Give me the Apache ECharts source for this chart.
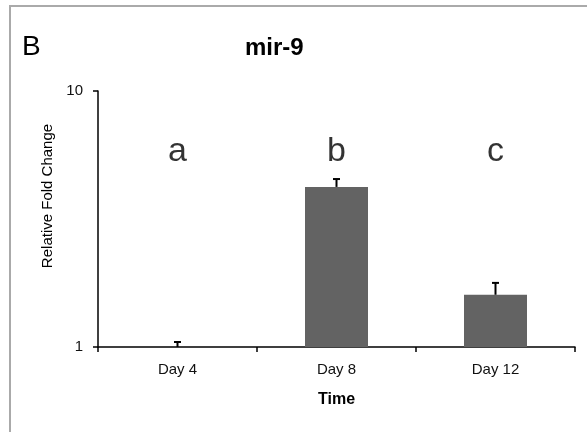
<!DOCTYPE html>
<html>
<head>
<meta charset="utf-8">
<script src="https://cdn.jsdelivr.net/npm/echarts@6/dist/echarts.min.js"></script>
<style>html,body{margin:0;padding:0;background:#fff;}#c{width:587px;height:432px;}</style>
</head>
<body>
<div id="c"></div>
<script>
const categories = ['Day 4', 'Day 8', 'Day 12'];
const values = [1.0, 4.22, 1.6];
const errorUpper = [1.046, 4.53, 1.78];
const letters = ['a', 'b', 'c'];
const letterLevel = [5.8, 5.8, 5.8];

const chart = echarts.init(document.getElementById('c'), null, {renderer: 'canvas'});
const font = 'Liberation Sans, Arial, sans-serif';
const option = {
  animation: false,
  backgroundColor: '#fff',
  textStyle: {fontFamily: font},
  graphic: [{
    type: 'rect', shape: {x: 10, y: 6, width: 800, height: 800},
    style: {fill: 'none', stroke: '#aaaaaa', lineWidth: 2}, silent: true, z: -10
  }],
  title: [
    {text: 'B', left: 17, top: 28, textStyle: {fontFamily: font, fontSize: 28, fontWeight: 'normal', color: '#000'}},
    {text: 'mir-9', left: 240, top: 31, textStyle: {fontFamily: font, fontSize: 24, fontWeight: 'bold', color: '#000'}}
  ],
  grid: {left: 98, right: 12, top: 91, bottom: 85, containLabel: false},
  xAxis: {
    type: 'category', data: categories, boundaryGap: true,
    axisLine: {lineStyle: {color: '#000', width: 1.5}},
    axisTick: {show: true, inside: false, length: 5, lineStyle: {color: '#000', width: 1.5}, alignWithLabel: false},
    axisLabel: {fontFamily: font, fontSize: 15, color: '#111', margin: 15},
    name: 'Time', nameLocation: 'middle', nameGap: 45,
    nameTextStyle: {fontFamily: font, fontSize: 16, fontWeight: 'bold', color: '#000'}
  },
  yAxis: {
    type: 'log', logBase: 10, min: 1, max: 10,
    axisLine: {show: true, lineStyle: {color: '#000', width: 1.5}},
    axisTick: {show: true, inside: false, length: 5, lineStyle: {color: '#000', width: 1.5}},
    axisLabel: {fontFamily: font, fontSize: 15, color: '#111', margin: 15},
    splitLine: {show: false},
    name: 'Relative Fold Change', nameLocation: 'middle', nameGap: 42, nameRotate: 90,
    nameTextStyle: {fontFamily: font, fontSize: 15, color: '#000', padding: [0, 0, 0, 46]}
  },
  series: [
    {
      type: 'bar', data: values, barWidth: 63,
      itemStyle: {color: '#636363'}, z: 2
    },
    {
      type: 'custom', z: 3,
      data: values.map((v, i) => [i, v, errorUpper[i]]),
      renderItem: function (params, api) {
        const i = api.value(0);
        const lo = api.coord([i, api.value(1)]);
        const hi = api.coord([i, api.value(2)]);
        const hw = 3.5;
        return {
          type: 'group',
          children: [
            {type: 'line', shape: {x1: lo[0], y1: lo[1], x2: hi[0], y2: hi[1]}, style: {stroke: '#000', lineWidth: 2}},
            {type: 'line', shape: {x1: hi[0] - hw, y1: hi[1], x2: hi[0] + hw, y2: hi[1]}, style: {stroke: '#000', lineWidth: 2}}
          ]
        };
      }
    },
    {
      type: 'scatter', symbolSize: 0,
      data: letterLevel,
      label: {
        show: true, position: 'inside',
        formatter: p => letters[p.dataIndex],
        fontFamily: font, fontSize: 34, color: '#000'
      }
    }
  ]
};
chart.setOption(option);
</script>
</body>
</html>
